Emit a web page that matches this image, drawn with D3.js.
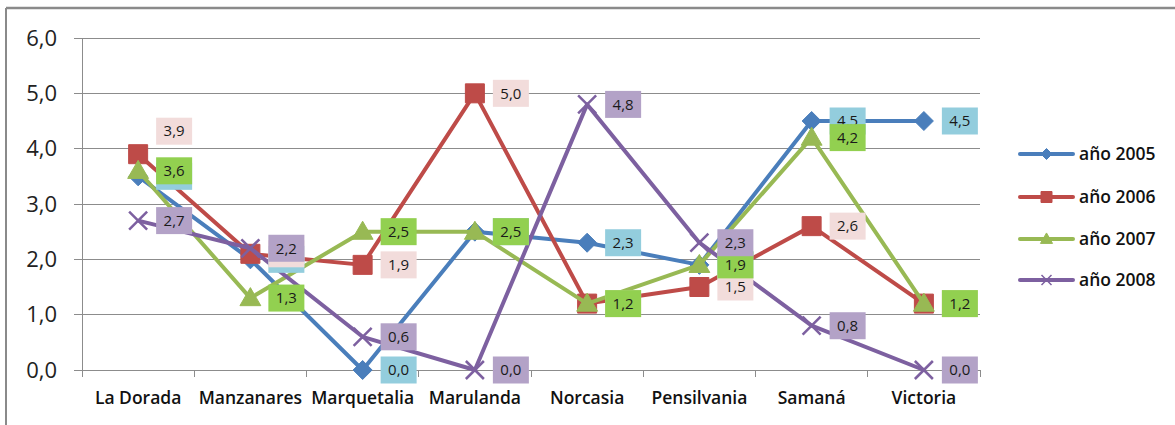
<!DOCTYPE html>
<html><head><meta charset="utf-8">
<script src="https://cdn.jsdelivr.net/npm/d3@7"></script>
<style>
html,body{margin:0;padding:0;background:#fff;}
svg{display:block;}
</style></head>
<body>
<svg id="chart" width="1175" height="425"></svg>
<script>
const categories = ["La Dorada","Manzanares","Marquetalia","Marulanda","Norcasia","Pensilvania","Samaná","Victoria"];
const seriesNames = ["año 2005","año 2006","año 2007","año 2008"];
const v2005 = [3.5, 2.0, 0.0, 2.5, 2.3, 1.9, 4.5, 4.5];
const v2006 = [3.9, 2.1, 1.9, 5.0, 1.2, 1.5, 2.6, 1.2];
const v2007 = [3.6, 1.3, 2.5, 2.5, 1.2, 1.9, 4.2, 1.2];
const v2008 = [2.7, 2.2, 0.6, 0.0, 4.8, 2.3, 0.8, 0.0];
const yTicks = [0,1,2,3,4,5,6];

(function(){
const lineColors = ["#4A7EBB","#BE4B48","#98B954","#7D60A0"];
const labelFills = ["#93CDDD","#F2DCDB","#92D050","#B3A2C7"];
const markers = ["diamond","square","triangle","x"];
// manual label nudge (Excel moved label), keyed by series|category
const labelNudge = {"1|0": -23};
const FONT = "'Open Sans', 'Liberation Sans', sans-serif";

const series = [v2005, v2006, v2007, v2008].map((vals,i)=>({name:seriesNames[i], values:vals, i}));

const svg = d3.select("#chart");
const pl = 82, pr = 980, pt = 38, pb = 370;

// outer border
svg.append("line").attr("x1",6).attr("x2",1175).attr("y1",8).attr("y2",8).attr("stroke","#8a8a8a").attr("stroke-width",2.5);
svg.append("line").attr("x1",6).attr("x2",6).attr("y1",8).attr("y2",425).attr("stroke","#8a8a8a").attr("stroke-width",2);

const x = d3.scaleBand().domain(categories).range([pl,pr]).padding(0);
const y = d3.scaleLinear().domain([0,6]).range([pb,pt]);
const cx = c => x(c) + x.bandwidth()/2;

// gridlines
svg.append("g").selectAll("line").data(yTicks).join("line")
  .attr("x1",pl-8).attr("x2",pr).attr("y1",d=>y(d)).attr("y2",d=>y(d))
  .attr("stroke","#8c8c8c").attr("stroke-width",1).attr("shape-rendering","crispEdges");

// y axis
const yAxis = d3.axisLeft(y).tickValues(yTicks).tickSize(0).tickPadding(25)
  .tickFormat(d=>d3.format(".1f")(d).replace(".",","));
const gy = svg.append("g").attr("transform",`translate(${pl},0)`).call(yAxis);
gy.select(".domain").attr("stroke","#8c8c8c").attr("shape-rendering","crispEdges");
gy.selectAll("text").attr("font-family",FONT).attr("font-size",22).attr("fill","#222");

// x axis
const xAxis = d3.axisBottom(x).tickSize(0).tickPadding(22);
const gx = svg.append("g").attr("transform",`translate(0,${pb})`).call(xAxis);
gx.select(".domain").attr("stroke","#8c8c8c").attr("shape-rendering","crispEdges");
gx.selectAll("text").attr("font-family",FONT).attr("font-size",17.5).attr("font-weight",600).attr("fill","#111")
  .attr("textLength", function(){ return Math.min(this.getComputedTextLength(), 108); })
  .attr("lengthAdjust","spacingAndGlyphs");
// category boundary ticks
svg.append("g").selectAll("line").data(categories.map(c=>x(c)).concat([pr])).join("line")
  .attr("x1",d=>d).attr("x2",d=>d).attr("y1",pb).attr("y2",pb+7)
  .attr("stroke","#8c8c8c").attr("shape-rendering","crispEdges");

function markerPath(type, s){
  if(type==="diamond") return `M0,${-s}L${s},0L0,${s}L${-s},0Z`;
  if(type==="square") return `M${-s},${-s}H${s}V${s}H${-s}Z`;
  if(type==="triangle") return `M0,${-s*1.1}L${s*1.1},${s*0.8}L${-s*1.1},${s*0.8}Z`;
  return `M${-s},${-s}L${s},${s}M${-s},${s}L${s},${-s}`;
}
const mSize = [9.5, 9.5, 9.5, 9];

const line = d3.line().x((d,j)=>cx(categories[j])).y(d=>y(d));

series.forEach(s=>{
  const g = svg.append("g");
  g.append("path").datum(s.values).attr("d",line).attr("fill","none")
    .attr("stroke",lineColors[s.i]).attr("stroke-width",4).attr("stroke-linejoin","round");
  g.selectAll("path.m").data(s.values).join("path").attr("class","m")
    .attr("transform",(d,j)=>`translate(${cx(categories[j])},${y(d)})`)
    .attr("d",markerPath(markers[s.i], mSize[s.i]))
    .attr("fill", markers[s.i]==="x" ? "none" : lineColors[s.i])
    .attr("stroke",lineColors[s.i]).attr("stroke-width", markers[s.i]==="x" ? 2.5 : 1)
    .attr("stroke-linejoin","round");
});

// data labels
series.forEach(s=>{
  const g = svg.append("g");
  s.values.forEach((d,j)=>{
    const px = cx(categories[j]) + 18;
    const py = y(d) + (labelNudge[s.i+"|"+j]||0);
    g.append("rect").attr("x",px).attr("y",py-13.5).attr("width",36).attr("height",27).attr("fill",labelFills[s.i]);
    g.append("text").attr("x",px+18).attr("y",py).attr("dy","0.35em").attr("text-anchor","middle")
      .attr("font-family",FONT).attr("font-size",15).attr("fill","#1a1a1a")
      .text(d3.format(".1f")(d).replace(".",","));
  });
});

// legend
const legY = [154,197,239,280];
const lg = svg.append("g");
series.forEach(s=>{
  const gy2 = legY[s.i];
  lg.append("line").attr("x1",1020).attr("x2",1073).attr("y1",gy2).attr("y2",gy2)
    .attr("stroke",lineColors[s.i]).attr("stroke-width",4).attr("stroke-linecap","round");
  lg.append("path").attr("transform",`translate(1046.5,${gy2})`).attr("d",markerPath(markers[s.i], markers[s.i]==="x"?5:5.5))
    .attr("fill", markers[s.i]==="x" ? "none" : lineColors[s.i]).attr("stroke",lineColors[s.i]).attr("stroke-width",markers[s.i]==="x"?1.5:1);
  lg.append("text").attr("x",1079).attr("y",gy2).attr("dy","0.35em")
    .attr("font-family",FONT).attr("font-size",17.5).attr("font-weight",600).attr("fill","#111")
    .text(s.name);
});
})();
</script>
</body></html>
